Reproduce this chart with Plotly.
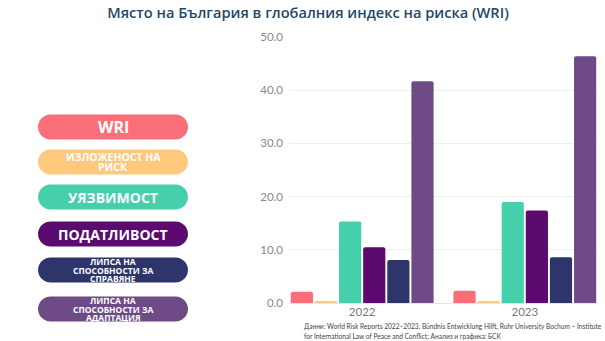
import plotly.graph_objects as go

years = ["2022", "2023"]
series_names = ["WRI", "ИЗЛОЖЕНОСТ НА РИСК", "УЯЗВИМОСТ", "ПОДАТЛИВОСТ",
                "ЛИПСА НА СПОСОБНОСТИ ЗА СПРАВЯНЕ", "ЛИПСА НА СПОСОБНОСТИ ЗА АДАПТАЦИЯ"]
values_2022 = [2.1, 0.3, 15.3, 10.5, 8.1, 41.7]
values_2023 = [2.3, 0.3, 19.0, 17.4, 8.6, 46.4]
colors = ["#f96e78", "#fec97c", "#46cfab", "#5b0a6f", "#2e356b", "#6e4b87"]
pill_lines = [["WRI"], ["ИЗЛОЖЕНОСТ НА", "РИСК"], ["УЯЗВИМОСТ"], ["ПОДАТЛИВОСТ"],
              ["ЛИПСА НА", "СПОСОБНОСТИ ЗА", "СПРАВЯНЕ"],
              ["ЛИПСА НА", "СПОСОБНОСТИ ЗА", "АДАПТАЦИЯ"]]
pill_font_sizes = [16, 10.5, 14, 14, 8.5, 8.5]
pill_line_gap = [0, 10.5, 0, 0, 8.5, 8.5]
pill_centers_y = [127, 162, 197, 234, 270, 309]
y_ticks = [0, 10, 20, 30, 40, 50]
source_lines = [
    "Данни: World Risk Reports 2022–2023. Bündnis Entwicklung Hilft, Ruhr University Bochum – Institute",
    "for International Law of Peace and Conflict; Анализ и графика: БСК",
]

W, H = 605, 341
L, R, T, B = 289, 7, 37, 38
pw, ph = W - L - R, H - T - B

def px(x):
    return (x - L) / pw

def py(y):
    return (H - B - y) / ph

fig = go.Figure()
for i, name in enumerate(series_names):
    fig.add_trace(go.Bar(
        x=years, y=[values_2022[i], values_2023[i]], name=name,
        marker=dict(color=colors[i], line=dict(width=0), cornerradius=2),
        showlegend=False,
    ))

shapes = []
annotations = []
pill_x0, pill_x1, pill_h = 38, 188, 25
for i, cy in enumerate(pill_centers_y):
    y0, y1 = cy - pill_h / 2, cy + pill_h / 2
    r = pill_h / 2
    k = 0.5523 * r
    xa, xb = pill_x0 + r, pill_x1 - r
    pts = [
        ("M", [(xa, y0)]),
        ("L", [(xb, y0)]),
        ("C", [(xb + k, y0), (pill_x1, cy - k), (pill_x1, cy)]),
        ("C", [(pill_x1, cy + k), (xb + k, y1), (xb, y1)]),
        ("L", [(xa, y1)]),
        ("C", [(xa - k, y1), (pill_x0, cy + k), (pill_x0, cy)]),
        ("C", [(pill_x0, cy - k), (xa - k, y0), (xa, y0)]),
    ]
    path = ""
    for cmd, ps in pts:
        path += cmd + " " + " ".join(f"{px(a):.5f},{py(b):.5f}" for a, b in ps) + " "
    path += "Z"
    shapes.append(dict(type="path", xref="paper", yref="paper", path=path,
                       fillcolor=colors[i], line=dict(width=0), layer="above"))
    lines = pill_lines[i]
    n = len(lines)
    for j, line in enumerate(lines):
        ly = cy + (j - (n - 1) / 2) * pill_line_gap[i]
        annotations.append(dict(
            x=px((pill_x0 + pill_x1) / 2), y=py(ly), xref="paper", yref="paper",
            text=line, showarrow=False, xanchor="center", yanchor="middle",
            font=dict(family="Open Sans", size=pill_font_sizes[i], color="white",
                      weight=700),
            align="center",
        ))

for j, line in enumerate(source_lines):
    annotations.append(dict(
        x=px(302), y=py(326 + j * 10.5), xref="paper", yref="paper",
        text=line, showarrow=False, xanchor="left", yanchor="middle", align="left",
        font=dict(family="Lato", size=6.6, color="#444444"),
    ))

fig.update_layout(
    width=W, height=H,
    margin=dict(l=L, r=R, t=T, b=B),
    paper_bgcolor="white", plot_bgcolor="white",
    barmode="group", bargap=0.11, bargroupgap=0.08,
    title=dict(text="Място на България в глобалния индекс на риска (WRI)",
               x=308 / W, xref="container", xanchor="center",
               y=1 - 13 / H, yref="container", yanchor="middle",
               font=dict(family="Open Sans", size=14.6, color="#1f4868", weight=600)),
    xaxis=dict(range=[-0.45, 1.45], showgrid=False, showline=False, ticks="",
               tickfont=dict(family="Lato", size=11.5, color="#777777")),
    yaxis=dict(range=[0, 50], tickvals=y_ticks, tickformat=".1f",
               showgrid=True, gridcolor="#eeeeee", gridwidth=1,
               zeroline=True, zerolinecolor="#e6e6e6", zerolinewidth=1,
               showline=False, ticks="", ticklabelstandoff=5,
               tickfont=dict(family="Lato", size=11.5, color="#888888")),
    shapes=shapes, annotations=annotations,
)

fig.write_html("out.html")
